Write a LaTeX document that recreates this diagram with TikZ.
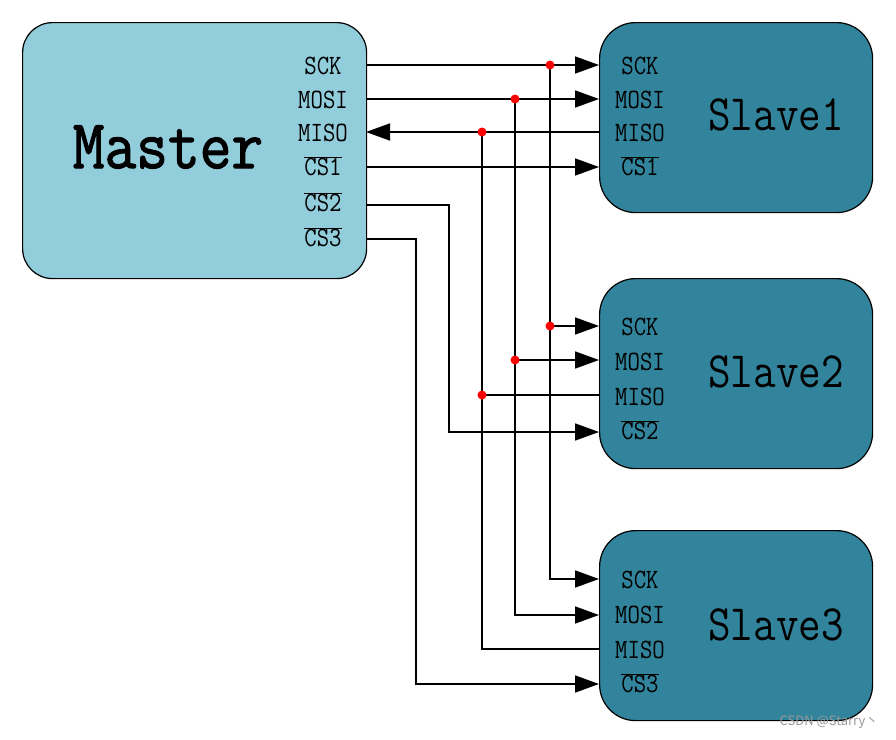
\documentclass[tikz,border=0pt]{standalone}
\usepackage{fontspec}
\newfontfamily\simf[FakeStretch=0.86]{Latin Modern Mono}
\newfontfamily\simb[FakeStretch=0.88,FakeBold=1.5]{Latin Modern Mono}
\newfontfamily\cjkf{Noto Sans CJK SC}
\usetikzlibrary{arrows.meta}
\definecolor{mastercol}{HTML}{92CDDC}
\definecolor{slavecol}{HTML}{31849B}
\newcommand{\ovl}[1]{$\overline{\hbox{#1}}$}
\begin{document}
\begin{tikzpicture}[x=1pt,y=-1pt,
  box/.style={draw=black,line width=1.2pt,anchor=north west,inner sep=0pt},
  masterbox/.style={box,fill=mastercol,rounded corners=30pt,minimum width=344pt,minimum height=256pt},
  slavebox/.style={box,fill=slavecol,rounded corners=36pt,minimum width=273pt,minimum height=190pt},
  pin/.style={font=\simf\fontsize{28}{28}\selectfont,inner sep=0pt},
  big/.style={font=\simf\fontsize{51}{51}\selectfont,inner sep=0pt},
  sig/.style={line width=1.6pt,black},
  arr/.style={sig,-{Triangle[length=24pt,width=17pt]}},
  dot/.style={fill=red}]
\useasboundingbox (0,0) rectangle (896,739);
% boxes
\node[masterbox] (master) at (22,22) {};
\node[slavebox] (slave1) at (599,22) {};
\node[slavebox] (slave2) at (599,278) {};
\node[slavebox] (slave3) at (599,530) {};
% titles
\node[big,font=\simb\fontsize{70}{70}\selectfont] (mt) at (168,147) {Master};
\node[big] (s1t) at (776,115) {Slave1};
\node[big] (s2t) at (776,372) {Slave2};
\node[big] (s3t) at (776,625) {Slave3};
% master pins
\node[pin] (ml1) at (323,66) {SCK};
\node[pin] (ml2) at (323,100) {MOSI};
\node[pin] (ml3) at (323,133) {MISO};
\node[pin] (ml4) at (323,166) {\ovl{CS1}};
\node[pin] (ml5) at (323,202) {\ovl{CS2}};
\node[pin] (ml6) at (323,237) {\ovl{CS3}};
% slave pins
\node[pin] (a1) at (640,66) {SCK};
\node[pin] (a2) at (640,100) {MOSI};
\node[pin] (a3) at (640,133) {MISO};
\node[pin] (a4) at (640,166) {\ovl{CS1}};
\node[pin] (b1) at (640,327) {SCK};
\node[pin] (b2) at (640,362) {MOSI};
\node[pin] (b3) at (640,397) {MISO};
\node[pin] (b4) at (640,430) {\ovl{CS2}};
\node[pin] (c1) at (640,580) {SCK};
\node[pin] (c2) at (640,615) {MOSI};
\node[pin] (c3) at (640,650) {MISO};
\node[pin] (c4) at (640,683) {\ovl{CS3}};
% pin coordinates
\coordinate (m-sck) at (366,65);
\coordinate (m-mosi) at (366,99);
\coordinate (m-miso) at (366,132);
\coordinate (m-cs1) at (366,167);
\coordinate (m-cs2) at (366,205);
\coordinate (m-cs3) at (366,239);
\coordinate (s1-sck) at (599,65);
\coordinate (s1-mosi) at (599,99);
\coordinate (s1-miso) at (599,132);
\coordinate (s1-cs) at (599,167);
\coordinate (s2-sck) at (599,326);
\coordinate (s2-mosi) at (599,360);
\coordinate (s2-miso) at (599,395);
\coordinate (s2-cs) at (599,432);
\coordinate (s3-sck) at (599,579);
\coordinate (s3-mosi) at (599,615);
\coordinate (s3-miso) at (599,649);
\coordinate (s3-cs) at (599,684);
% junctions
\coordinate (j-sck1) at (550,65);
\coordinate (j-sck2) at (550,326);
\coordinate (j-mosi1) at (515,99);
\coordinate (j-mosi2) at (515,360);
\coordinate (j-miso1) at (482,132);
\coordinate (j-miso2) at (482,395);
\coordinate (k-cs2) at (449,432);
\coordinate (k-cs3) at (416,684);
% connectors
\draw[arr] (m-sck) -- (s1-sck);
\draw[arr] (m-mosi) -- (s1-mosi);
\draw[arr] (s1-miso) -- (m-miso);
\draw[arr] (m-cs1) -- (s1-cs);
\draw[arr] (m-cs2) -| (k-cs2) -- (s2-cs);
\draw[arr] (m-cs3) -| (k-cs3) -- (s3-cs);
\draw[arr] (j-sck1) |- (s3-sck);
\draw[arr] (j-sck2) -- (s2-sck);
\draw[arr] (j-mosi1) |- (s3-mosi);
\draw[arr] (j-mosi2) -- (s2-mosi);
\draw[sig] (j-miso1) |- (s3-miso);
\draw[sig] (j-miso2) -- (s2-miso);
% dots
\foreach \p in {j-sck1,j-sck2,j-mosi1,j-mosi2,j-miso1,j-miso2}
  \fill[dot] (\p) circle (4.5pt);
% watermark
\node[font=\cjkf\fontsize{13}{13}\selectfont,text=black!40,inner sep=0pt] (wm) at (829,722) {CSDN @Starry丶};
\end{tikzpicture}
\end{document}
